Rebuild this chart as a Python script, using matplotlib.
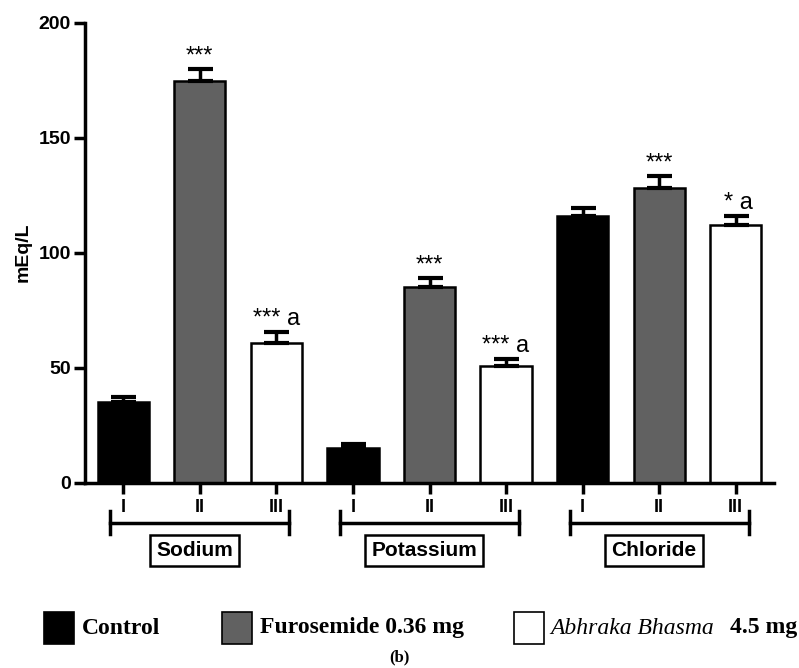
import numpy as np
import matplotlib
matplotlib.use('Agg')
import matplotlib.pyplot as plt
from matplotlib.patches import Rectangle

groups = ["Sodium", "Potassium", "Chloride"]
treatments = ["Control", "Furosemide 0.36 mg", "Abhraka Bhasma 4.5 mg"]
tick_labels = ["I", "II", "III"]
control = [35.0, 15.0, 115.8]
control_err = [2.4, 2.0, 3.8]
furosemide = [174.5, 85.0, 128.0]
furosemide_err = [5.2, 4.0, 5.3]
abhraka = [60.6, 50.7, 112.0]
abhraka_err = [5.0, 3.2, 3.8]
stars = [["", "***", "*** a"], ["", "***", "*** a"], ["", "***", "* a"]]

colors = ["black", "#616161", "white"]
sans = "Liberation Sans"
serif = "Liberation Serif"

fig = plt.figure(figsize=(7.99, 6.68), dpi=100)
ax = fig.add_axes([85 / 799, 1 - 482.7 / 668, (774 - 85) / 799, 460 / 668])

values = [control, furosemide, abhraka]
errors = [control_err, furosemide_err, abhraka_err]
xs_all = []
for g in range(3):
    for t in range(3):
        x = g * 3 + t
        xs_all.append(x)
        v = values[t][g]
        e = errors[t][g]
        ax.bar(x, v, width=0.67, color=colors[t], edgecolor="black", linewidth=1.8, zorder=2)
        ax.errorbar(x, v, yerr=[[0], [e]], fmt="none", ecolor="black",
                    elinewidth=2.5, capsize=9, capthick=3, zorder=3)
        lab = stars[g][t]
        if lab:
            off = 0.03 if lab == "* a" else 0.0
            ax.text(x + off, v + e + 3, lab, ha="center", va="baseline", fontsize=17, family=sans)

ax.set_xlim(-0.5, 8.5)
ax.set_ylim(0, 200)
ax.set_yticks([0, 50, 100, 150, 200])
ax.set_xticks(xs_all)
ax.set_xticklabels(tick_labels * 3)
for lbl in ax.get_yticklabels() + ax.get_xticklabels():
    lbl.set_family(sans)
    lbl.set_fontweight("bold")
ax.tick_params(axis="y", labelsize=14, width=2.5, length=8, pad=2)
ax.tick_params(axis="x", labelsize=13, width=2.5, length=8, pad=4)
ax.spines["top"].set_visible(False)
ax.spines["right"].set_visible(False)
ax.spines["left"].set_linewidth(2.5)
ax.spines["bottom"].set_linewidth(2.5)
ax.set_ylabel("mEq/L", family=sans, fontweight="bold", fontsize=14, labelpad=5)

# group brackets with boxed names
for g, name in enumerate(groups):
    x0 = g * 3 - 0.17
    x1 = g * 3 + 2.17
    yb = -17.5
    ax.plot([x0, x1], [yb, yb], color="black", lw=2.5, clip_on=False)
    ax.plot([x0, x0], [yb - 5, yb + 5], color="black", lw=2.5, clip_on=False)
    ax.plot([x1, x1], [yb - 5, yb + 5], color="black", lw=2.5, clip_on=False)
    ax.text(g * 3 + 0.93, -29.5, name, ha="center", va="center", fontsize=15,
            family=sans, fontweight="bold", clip_on=False,
            bbox=dict(boxstyle="square,pad=0.3", fc="white", ec="black", lw=1.8))

# legend drawn by hand
W, H = 799, 668
ly = 628
sq = [(44, "Control", None), (222, "Furosemide 0.36 mg", None), (514, "Abhraka Bhasma", "4.5 mg")]
for i, (x0, txt, extra) in enumerate(sq):
    fig.add_artist(Rectangle((x0 / W, 1 - (ly + 16) / H), 30 / W, 32 / H, transform=fig.transFigure,
                             facecolor=colors[i], edgecolor="black", lw=1.2))
    if extra is None:
        fig.text((x0 + 38) / W, 1 - ly / H, txt, family=serif, fontweight="bold",
                 fontsize=17, va="center", ha="left")
    else:
        fig.text((x0 + 36) / W, 1 - ly / H, txt, family=serif, style="italic",
                 fontsize=17, va="center", ha="left")
        fig.text(797 / W, 1 - ly / H, extra, family=serif, fontweight="bold",
                 fontsize=17, va="center", ha="right")

fig.text(399 / W, 1 - 657 / H, "(b)", family=serif, fontweight="bold", fontsize=12,
         ha="center", va="center")

fig.savefig("out.png", dpi=100)
